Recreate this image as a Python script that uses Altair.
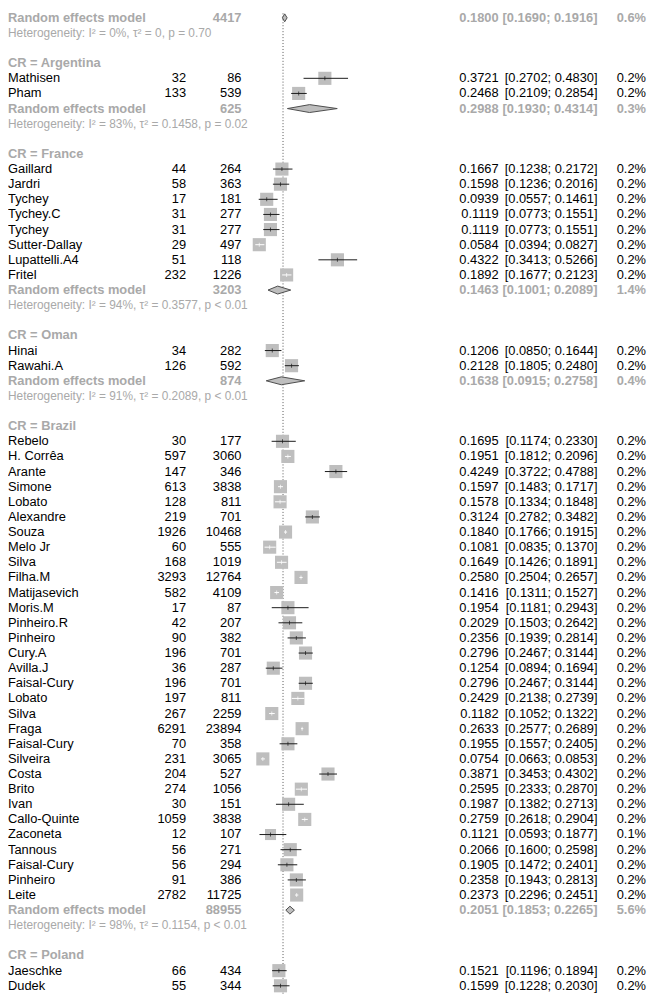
import altair as alt
import pandas as pd

FONT = "Liberation Sans"
GRAY_TXT = "#A9A9A9"
SQUARE_COL = "#BEBEBE"

# ---------------- data ----------------
# summary rows: index 0 = subgroup shown above the crop, then Argentina, France, Oman, Brazil
sum_total = [4417, 625, 3203, 874, 88955]
sum_est = [0.1800, 0.2988, 0.1463, 0.1638, 0.2051]
sum_lo = [0.1690, 0.1930, 0.1001, 0.0915, 0.1853]
sum_hi = [0.1916, 0.4314, 0.2089, 0.2758, 0.2265]
sum_w = [0.6, 0.3, 1.4, 0.4, 5.6]
sum_i2 = ["0%", "83%", "94%", "91%", "98%"]
sum_tau2 = ["0", "0.1458", "0.3577", "0.2089", "0.1154"]
sum_p = ["= 0.70", "= 0.02", "< 0.01", "< 0.01", "< 0.01"]

group_names = ["Argentina", "France", "Oman", "Brazil", "Poland"]

arg_study = ["Mathisen", "Pham"]
arg_events = [32, 133]
arg_total = [86, 539]
arg_est = [0.3721, 0.2468]
arg_lo = [0.2702, 0.2109]
arg_hi = [0.4830, 0.2854]
arg_w = [0.2, 0.2]

fra_study = ["Gaillard", "Jardri", "Tychey", "Tychey.C", "Tychey", "Sutter-Dallay", "Lupattelli.A4", "Fritel"]
fra_events = [44, 58, 17, 31, 31, 29, 51, 232]
fra_total = [264, 363, 181, 277, 277, 497, 118, 1226]
fra_est = [0.1667, 0.1598, 0.0939, 0.1119, 0.1119, 0.0584, 0.4322, 0.1892]
fra_lo = [0.1238, 0.1236, 0.0557, 0.0773, 0.0773, 0.0394, 0.3413, 0.1677]
fra_hi = [0.2172, 0.2016, 0.1461, 0.1551, 0.1551, 0.0827, 0.5266, 0.2123]
fra_w = [0.2] * 8

oma_study = ["Hinai", "Rawahi.A"]
oma_events = [34, 126]
oma_total = [282, 592]
oma_est = [0.1206, 0.2128]
oma_lo = [0.0850, 0.1805]
oma_hi = [0.1644, 0.2480]
oma_w = [0.2, 0.2]

bra_study = ["Rebelo", "H. Corrêa", "Arante", "Simone", "Lobato", "Alexandre", "Souza", "Melo Jr",
             "Silva", "Filha.M", "Matijasevich", "Moris.M", "Pinheiro.R", "Pinheiro", "Cury.A",
             "Avilla.J", "Faisal-Cury", "Lobato", "Silva", "Fraga", "Faisal-Cury", "Silveira",
             "Costa", "Brito", "Ivan", "Callo-Quinte", "Zaconeta", "Tannous", "Faisal-Cury",
             "Pinheiro", "Leite"]
bra_events = [30, 597, 147, 613, 128, 219, 1926, 60, 168, 3293, 582, 17, 42, 90, 196, 36, 196,
              197, 267, 6291, 70, 231, 204, 274, 30, 1059, 12, 56, 56, 91, 2782]
bra_total = [177, 3060, 346, 3838, 811, 701, 10468, 555, 1019, 12764, 4109, 87, 207, 382, 701,
             287, 701, 811, 2259, 23894, 358, 3065, 527, 1056, 151, 3838, 107, 271, 294, 386, 11725]
bra_est = [0.1695, 0.1951, 0.4249, 0.1597, 0.1578, 0.3124, 0.1840, 0.1081, 0.1649, 0.2580,
           0.1416, 0.1954, 0.2029, 0.2356, 0.2796, 0.1254, 0.2796, 0.2429, 0.1182, 0.2633,
           0.1955, 0.0754, 0.3871, 0.2595, 0.1987, 0.2759, 0.1121, 0.2066, 0.1905, 0.2358, 0.2373]
bra_lo = [0.1174, 0.1812, 0.3722, 0.1483, 0.1334, 0.2782, 0.1766, 0.0835, 0.1426, 0.2504,
          0.1311, 0.1181, 0.1503, 0.1939, 0.2467, 0.0894, 0.2467, 0.2138, 0.1052, 0.2577,
          0.1557, 0.0663, 0.3453, 0.2333, 0.1382, 0.2618, 0.0593, 0.1600, 0.1472, 0.1943, 0.2296]
bra_hi = [0.2330, 0.2096, 0.4788, 0.1717, 0.1848, 0.3482, 0.1915, 0.1370, 0.1891, 0.2657,
          0.1527, 0.2943, 0.2642, 0.2814, 0.3144, 0.1694, 0.3144, 0.2739, 0.1322, 0.2689,
          0.2405, 0.0853, 0.4302, 0.2870, 0.2713, 0.2904, 0.1877, 0.2598, 0.2401, 0.2813, 0.2451]
bra_w = [0.2] * 26 + [0.1] + [0.2] * 4

pol_study = ["Jaeschke", "Dudek"]
pol_events = [66, 55]
pol_total = [434, 344]
pol_est = [0.1521, 0.1599]
pol_lo = [0.1196, 0.1228]
pol_hi = [0.1894, 0.2030]
pol_w = [0.2, 0.2]

ref_line = [0.172]

group_lists = [
    (arg_study, arg_events, arg_total, arg_est, arg_lo, arg_hi, arg_w),
    (fra_study, fra_events, fra_total, fra_est, fra_lo, fra_hi, fra_w),
    (oma_study, oma_events, oma_total, oma_est, oma_lo, oma_hi, oma_w),
    (bra_study, bra_events, bra_total, bra_est, bra_lo, bra_hi, bra_w),
    (pol_study, pol_events, pol_total, pol_est, pol_lo, pol_hi, pol_w),
]

# ---------------- layout constants ----------------
W, H = 646, 992
PX_PER_UNIT = 211.3      # horizontal pixels per unit of proportion
X_ZERO = 241.7           # chart x of proportion 0
Y0, S = 4.5, 15.29       # first row centre and row pitch (px)
HALF_SQ = 6.6 / PX_PER_UNIT  # half square width in data units
DIAM_H = 4.0 / S             # diamond half height in row units

rows = []


def add(kind, **kw):
    rows.append(dict(row=len(rows) + 1, kind=kind, **kw))


def add_summary(i):
    add("sum", label="Random effects model", tot=str(sum_total[i]), est=sum_est[i],
        lo=sum_lo[i], hi=sum_hi[i], w=sum_w[i])
    add("het", label=f"Heterogeneity: I² = {sum_i2[i]}, τ² = {sum_tau2[i]}, p {sum_p[i]}")
    add("blank")


add_summary(0)
for gi, g in enumerate(group_names):
    add("cr", label=f"CR = {g}")
    st, ev, to, es, lo, hi, w = group_lists[gi]
    for k in range(len(st)):
        add("study", label=st[k], ev=str(ev[k]), tot=str(to[k]), est=es[k], lo=lo[k],
            hi=hi[k], w=w[k])
    if gi + 1 < len(sum_total):
        add_summary(gi + 1)

df = pd.DataFrame(rows)
for c in ["ev", "tot"]:
    df[c] = df[c].fillna("")
num = df["est"].notna()
df["est_txt"] = ""
df["ci_txt"] = ""
df["w_txt"] = ""
df.loc[num, "est_txt"] = df.loc[num, "est"].map(lambda v: f"{v:.4f}")
df.loc[num, "ci_txt"] = df.loc[num].apply(lambda r: f"[{r.lo:.4f}; {r.hi:.4f}]", axis=1)
df.loc[num, "w_txt"] = df.loc[num, "w"].map(lambda v: f"{v:.1f}%")

studies = df[df.kind == "study"].copy()
inside = ((studies.est - studies.lo) < HALF_SQ) & ((studies.hi - studies.est) < HALF_SQ)
studies["linecol"] = ["#FFFFFF" if v else "#1A1A1A" for v in inside]

summ = df[df.kind == "sum"]
dia = []
for _, r in summ.iterrows():
    for xv, f in [(r.lo, 0.0), (r.est, 1.0), (r.hi, 0.0)]:
        dia.append(dict(sid=int(r.row), x=xv, ya=r.row - DIAM_H * f, yb=r.row + DIAM_H * f))
dia = pd.DataFrame(dia)

# ---------------- scales ----------------
xscale = alt.Scale(domain=[(0 - X_ZERO) / PX_PER_UNIT, (W - X_ZERO) / PX_PER_UNIT],
                   nice=False, zero=False)
r_top = 1 - Y0 / S
r_bot = 1 + (H - Y0) / S
yscale = alt.Scale(domain=[r_top, r_bot], reverse=True, nice=False, zero=False)
Y = alt.Y("row:Q", scale=yscale, axis=None)

# ---------------- marks ----------------
ref = alt.Chart(pd.DataFrame({"ref": ref_line})).mark_rule(
    color="#555555", strokeWidth=1, strokeDash=[1, 2]
).encode(x=alt.X("ref:Q", scale=xscale, axis=None))

squares = alt.Chart(studies).mark_square(filled=True, color=SQUARE_COL, opacity=1).encode(
    x=alt.X("est:Q", scale=xscale, axis=None), y=Y,
    size=alt.Size("w:Q", scale=alt.Scale(domain=[0.1, 0.2], range=[125, 176]), legend=None),
)

ci = alt.Chart(studies).mark_rule(strokeWidth=1).encode(
    x=alt.X("lo:Q", scale=xscale, axis=None), x2="hi:Q", y=Y,
    color=alt.Color("linecol:N", scale=None),
)

ticks = alt.Chart(studies).mark_tick(orient="vertical", size=4, thickness=1).encode(
    x=alt.X("est:Q", scale=xscale, axis=None), y=Y,
    color=alt.Color("linecol:N", scale=None),
)

diamonds = alt.Chart(dia).mark_area(
    orient="vertical", fill="#BEBEBE", stroke="#4D4D4D", strokeWidth=1, opacity=1,
    interpolate="linear",
).encode(
    x=alt.X("x:Q", scale=xscale, axis=None),
    y=alt.Y("ya:Q", scale=yscale, axis=None), y2="yb:Q",
    detail="sid:N",
)


def txt(sub, field, xpos, align, color, weight="normal", size=13):
    return alt.Chart(sub).mark_text(
        align=align, baseline="middle", font=FONT, fontSize=size, fontWeight=weight, color=color
    ).encode(x=alt.value(xpos), y=Y, text=f"{field}:N")


st_rows = df[df.kind == "study"]
sum_rows = df[df.kind == "sum"]
cr_rows = df[df.kind == "cr"]
het_rows = df[df.kind == "het"]

texts = [
    txt(st_rows, "label", 0, "left", "#000000"),
    txt(sum_rows, "label", 0, "left", GRAY_TXT, "bold"),
    txt(cr_rows, "label", 0, "left", GRAY_TXT, "bold"),
    txt(het_rows, "label", 0, "left", GRAY_TXT, "normal", 12),
    txt(st_rows, "ev", 180, "right", "#000000"),
    txt(st_rows, "tot", 236, "right", "#000000"),
    txt(sum_rows, "tot", 236, "right", GRAY_TXT, "bold"),
    txt(st_rows, "est_txt", 496, "right", "#000000"),
    txt(sum_rows, "est_txt", 496, "right", GRAY_TXT, "bold"),
    txt(st_rows, "ci_txt", 596, "right", "#000000"),
    txt(sum_rows, "ci_txt", 596, "right", GRAY_TXT, "bold"),
    txt(st_rows, "w_txt", 645, "right", "#000000"),
    txt(sum_rows, "w_txt", 645, "right", GRAY_TXT, "bold"),
]

chart = alt.layer(ref, squares, ci, ticks, diamonds, *texts).properties(
    width=W, height=H, padding=0, autosize=alt.AutoSizeParams(type="none"),
).configure_view(stroke=None)

chart.save("out.html", embed_options={"renderer": "svg", "actions": False})
